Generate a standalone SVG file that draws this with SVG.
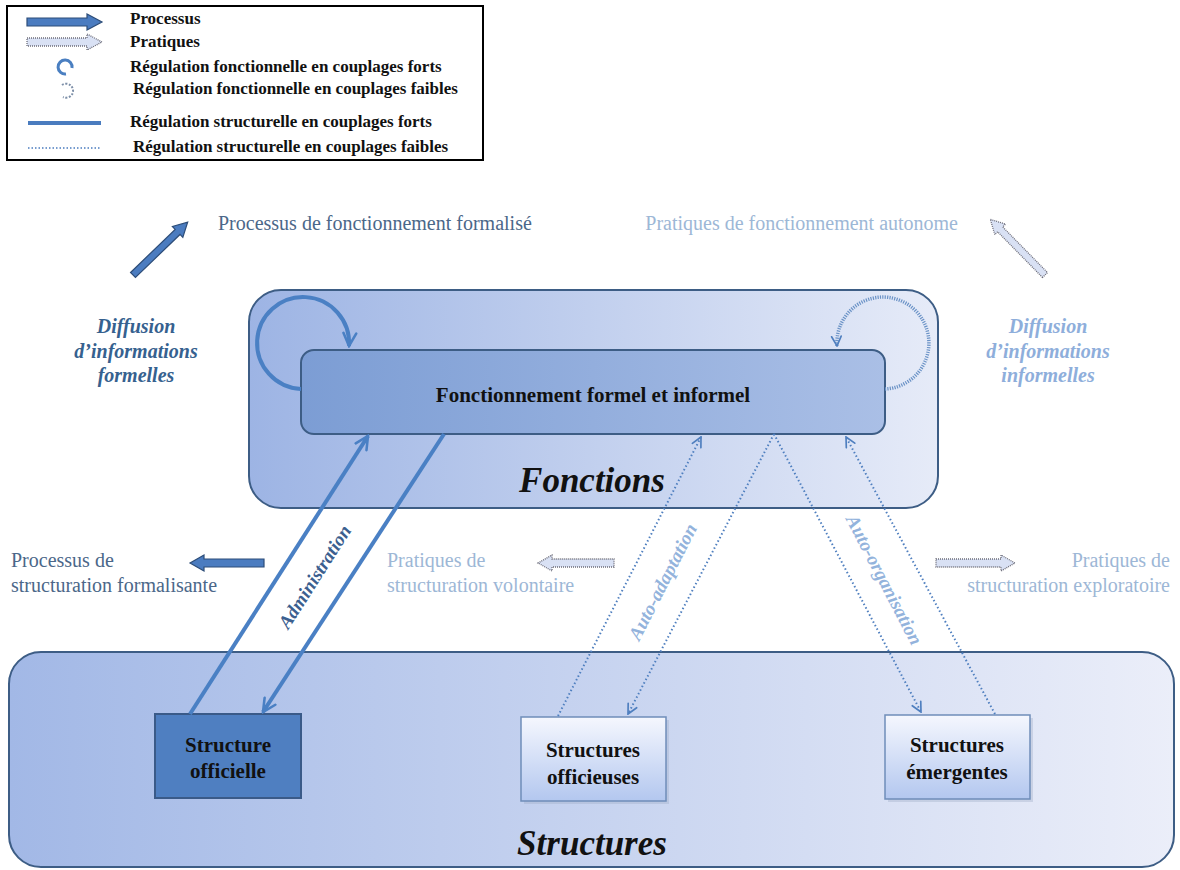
<svg xmlns="http://www.w3.org/2000/svg" width="1180" height="870" viewBox="0 0 1180 870">
<defs>
<linearGradient id="gFonc" x1="0" y1="0" x2="1" y2="0"><stop offset="0" stop-color="#9db4e4"/><stop offset="1" stop-color="#e6ebf8"/></linearGradient>
<linearGradient id="gInner" x1="0" y1="0" x2="1" y2="0"><stop offset="0" stop-color="#7c9dd4"/><stop offset="1" stop-color="#aabfe6"/></linearGradient>
<linearGradient id="gStruct" x1="0" y1="0" x2="1" y2="0"><stop offset="0" stop-color="#a2b8e6"/><stop offset="1" stop-color="#ebeef9"/></linearGradient>
<linearGradient id="gLight" x1="0" y1="0" x2="0" y2="1"><stop offset="0" stop-color="#f5f7fe"/><stop offset="1" stop-color="#b3c7ef"/></linearGradient>
<marker id="ah" viewBox="0 0 10 10" refX="9" refY="5" markerWidth="16" markerHeight="16" markerUnits="userSpaceOnUse" orient="auto"><path d="M1,1 L9,5 L1,9" fill="none" stroke="#4a80c4" stroke-width="1.6" stroke-linecap="round"/></marker>
<marker id="ahd" viewBox="0 0 10 10" refX="9" refY="5" markerWidth="12" markerHeight="12" markerUnits="userSpaceOnUse" orient="auto"><path d="M1,1 L9,5 L1,9" fill="none" stroke="#4f7fbf" stroke-width="1.4" stroke-linecap="round"/></marker>
</defs>
<style>
.leg{font-family:"Liberation Serif","Times New Roman",serif;font-weight:bold;font-size:17px;fill:#111}
.lbl{font-family:"Liberation Serif","Times New Roman",serif;font-size:20px}
.dark{fill:#4b6789}
.light{fill:#9db7d6}
.diff{font-family:"Liberation Serif","Times New Roman",serif;font-size:20px;font-style:italic;font-weight:bold}
.node{font-family:"Liberation Serif","Times New Roman",serif;font-weight:bold;font-size:21px;fill:#111}
.big{font-family:"Liberation Serif","Times New Roman",serif;font-style:italic;font-weight:bold;font-size:35px;fill:#111}
.rot{font-family:"Liberation Serif","Times New Roman",serif;font-style:italic;font-weight:bold;font-size:19px}
.parr{fill:#4b7cc0;stroke:#2d4d78;stroke-width:1.2}
.larr{fill:#d9e1f4;stroke:#6c6c78;stroke-width:1.3;stroke-dasharray:1 1}
.solid{fill:none;stroke:#4a80c4;stroke-width:4}
.dot{fill:none;stroke:#4f7fbf;stroke-width:2;stroke-dasharray:1.5 2.5}
.dotloop{fill:none;stroke:#6a92c6;stroke-width:3.5;stroke-dasharray:1.2 1.2}
</style>
<rect width="1180" height="870" fill="#ffffff"/>

<g id="legend">
<rect x="7" y="6" width="476" height="154" fill="#fff" stroke="#000" stroke-width="2"/>
<path class="parr" d="M27,18 H87 V14 L102,22 L87,30 V26 H27 Z"/>
<path class="larr" d="M27,38 H87 V34 L102,42 L87,50 V46 H27 Z"/>
<path d="M72,68 A7 7 0 1 0 66 74" fill="none" stroke="#4a7fc1" stroke-width="3"/>
<path d="M62,85 A7 7 0 1 1 63 97" fill="none" stroke="#7d8fa8" stroke-width="2" stroke-dasharray="2 1.5"/>
<line x1="28" y1="123" x2="101" y2="123" stroke="#4a7cbf" stroke-width="4"/>
<line x1="28" y1="148" x2="101" y2="148" stroke="#4a7cbf" stroke-width="1.5" stroke-dasharray="1.5 2"/>
<text class="leg" x="130" y="24">Processus</text>
<text class="leg" x="130" y="47">Pratiques</text>
<text class="leg" x="130" y="72">Régulation fonctionnelle en couplages forts</text>
<text class="leg" x="133" y="94">Régulation fonctionnelle en couplages faibles</text>
<text class="leg" x="130" y="127">Régulation structurelle en couplages forts</text>
<text class="leg" x="133" y="152">Régulation structurelle en couplages faibles</text>
</g>

<g id="fonctions">
<rect x="249" y="290" width="689" height="218" rx="32" fill="url(#gFonc)" stroke="#3d5d85" stroke-width="2"/>
<text class="big" x="592" y="492" text-anchor="middle">Fonctions</text>
</g>

<g id="structures">
<rect x="9" y="652" width="1165" height="215" rx="32" fill="url(#gStruct)" stroke="#3d5d85" stroke-width="2"/>
<text class="big" x="592" y="855" text-anchor="middle">Structures</text>
</g>

<g id="fonctionnement">
<rect x="301" y="350" width="584" height="84" rx="13" fill="url(#gInner)" stroke="#3d5d85" stroke-width="2"/>
<text class="node" x="593" y="402" text-anchor="middle" font-size="22">Fonctionnement formel et informel</text>
</g>

<g id="structure-officielle">
<rect x="155" y="714" width="146" height="84" fill="#4f7fc1" stroke="#3a5a88" stroke-width="2"/>
<text class="node" x="228" y="752" text-anchor="middle">Structure</text>
<text class="node" x="228" y="778" text-anchor="middle">officielle</text>
</g>

<g id="structures-officieuses">
<rect x="524" y="720" width="145" height="84" fill="#9aa8c4" opacity="0.35"/>
<rect x="521" y="717" width="145" height="84" fill="url(#gLight)" stroke="#6f8db9" stroke-width="1.5"/>
<text class="node" x="593" y="757" text-anchor="middle">Structures</text>
<text class="node" x="593" y="784" text-anchor="middle">officieuses</text>
</g>

<g id="structures-emergentes">
<rect x="888" y="718" width="145" height="84" fill="#9aa8c4" opacity="0.35"/>
<rect x="885" y="715" width="145" height="84" fill="url(#gLight)" stroke="#6f8db9" stroke-width="1.5"/>
<text class="node" x="957" y="752" text-anchor="middle">Structures</text>
<text class="node" x="957" y="779" text-anchor="middle">émergentes</text>
</g>

<g id="labels">
<text class="lbl dark" x="218" y="230">Processus de fonctionnement formalisé</text>
<text class="lbl light" x="958" y="230" text-anchor="end">Pratiques de fonctionnement autonome</text>
<text class="diff" x="136" y="333" text-anchor="middle" fill="#36618f">Diffusion</text>
<text class="diff" x="136" y="358" text-anchor="middle" fill="#36618f">d’informations</text>
<text class="diff" x="136" y="382" text-anchor="middle" fill="#36618f">formelles</text>
<text class="diff" x="1048" y="333" text-anchor="middle" fill="#8eaedb">Diffusion</text>
<text class="diff" x="1048" y="358" text-anchor="middle" fill="#8eaedb">d’informations</text>
<text class="diff" x="1048" y="382" text-anchor="middle" fill="#8eaedb">informelles</text>
<text class="lbl dark" x="11" y="567">Processus de</text>
<text class="lbl dark" x="11" y="592">structuration formalisante</text>
<text class="lbl light" x="387" y="567">Pratiques de</text>
<text class="lbl light" x="387" y="592">structuration volontaire</text>
<text class="lbl light" x="1170" y="567" text-anchor="end">Pratiques de</text>
<text class="lbl light" x="1170" y="592" text-anchor="end">structuration exploratoire</text>
</g>

<g id="practice-arrows">
<path class="parr" transform="translate(133,275) rotate(-44)" d="M0,-3.5 H62 V-7.5 L76,0 L62,7.5 V3.5 H0 Z"/>
<path class="larr" transform="translate(1045,275) rotate(-134.5)" d="M0,-3.5 H64 V-7.5 L78,0 L64,7.5 V3.5 H0 Z"/>
<path class="parr" transform="translate(264,563) rotate(180)" d="M0,-4 H60 V-8 L74,0 L60,8 V4 H0 Z"/>
<path class="larr" transform="translate(614,563) rotate(180)" d="M0,-4 H62 V-8 L76,0 L62,8 V4 H0 Z"/>
<path class="larr" transform="translate(936,563)" d="M0,-4 H65 V-8 L79,0 L65,8 V4 H0 Z"/>
</g>

<g id="connectors">
<path class="solid" d="M301,389 A46 46 0 1 1 349,346" marker-end="url(#ah)"/>
<path class="dotloop" d="M885,389 A46 46 0 1 0 837,346" marker-end="url(#ahd)"/>
<path class="solid" d="M190,714 L368,436" marker-end="url(#ah)"/>
<path class="solid" d="M444,434 L263,712" marker-end="url(#ah)"/>
<path class="dot" d="M558,716 L701,437" marker-end="url(#ahd)"/>
<path class="dot" d="M774,434 L628,714" marker-end="url(#ahd)"/>
<path class="dot" d="M774,434 L921,712" marker-end="url(#ahd)"/>
<path class="dot" d="M995,714 L846,437" marker-end="url(#ahd)"/>
<text class="rot" fill="#3c5f8f" transform="translate(315,577) rotate(-57.5)" text-anchor="middle" y="6">Administration</text>
<text class="rot" fill="#93b3dc" transform="translate(663,582) rotate(-62.8)" text-anchor="middle" y="6">Auto-adaptation</text>
<text class="rot" fill="#93b3dc" transform="translate(884,580) rotate(62.5)" text-anchor="middle" y="6">Auto-organisation</text>
</g>
</svg>
